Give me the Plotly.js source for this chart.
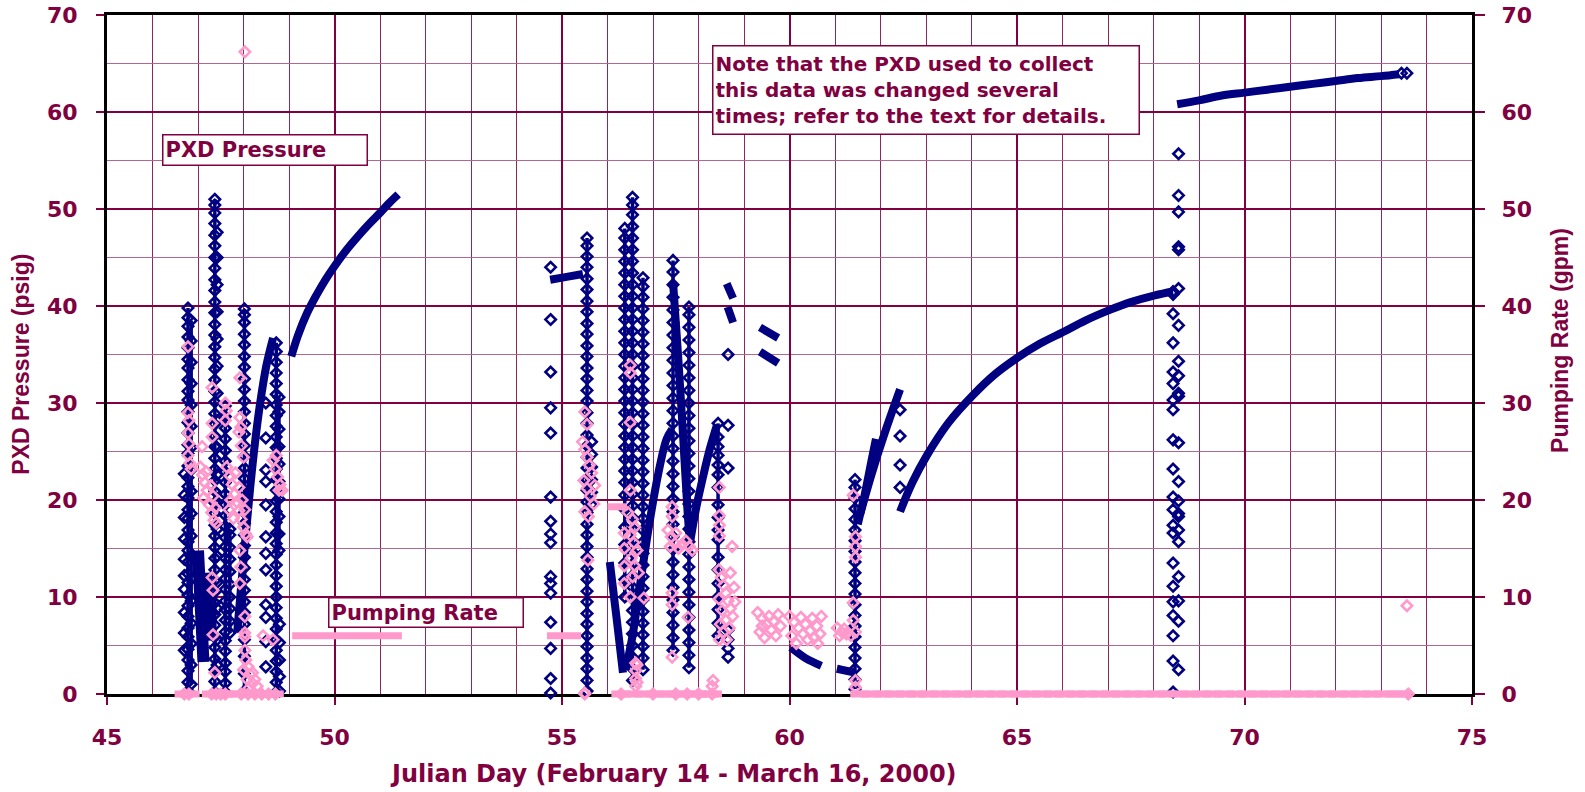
<!DOCTYPE html>
<html><head><meta charset="utf-8">
<script src="https://cdn.plot.ly/plotly-3.0.1.min.js"></script>
<style>html,body{margin:0;padding:0;background:#fff}</style>
</head><body><div id="chart" style="width:1585px;height:792px"></div>
<script>
// ---------- data ----------
// PXD pressure: continuous dense runs (null separates runs)
const pxdCurveX = [49.05,49.2,49.4,49.6,49.8,50.0,50.25,50.5,50.75,51.0,51.2,51.4,null,
  54.74,55.1,55.46,null, 56.05,56.2,56.34,null,
  56.4,56.55,56.7,56.85,57.0,57.15,57.3,57.42,null, 57.44,57.55,57.65,57.75,57.81,null,
  57.81,57.95,58.1,58.25,58.41,null, 58.62,58.76,null, 58.64,58.76,null,
  59.35,59.75,null, 59.35,59.75,null, 60.03,60.35,60.7,null, 61.04,61.44,null,
  61.55,61.8,62.1,62.43,null, 61.5,61.65,61.8,61.9,null,
  62.43,62.7,63.02,63.5,64.03,64.5,65.02,65.5,66.05,66.5,67.04,67.5,68.03,68.43,null,
  68.52,69.0,69.5,70.0,70.5,71.0,71.5,72.0,72.5,73.0,73.4,null,
  47.86,47.95,48.05,48.15,48.25,48.36,48.5,48.65];
const pxdCurveY = [34.8,37.0,39.3,41.1,42.7,44.1,45.7,47.1,48.4,49.6,50.6,51.5,null,
  42.7,43.0,43.3,null, 13.6,7.8,2.2,null,
  2.5,6.0,10.8,15.5,19.8,23.5,26.3,27.3,null, 42.5,35.0,27.5,19.5,15.6,null,
  15.5,19.2,22.4,25.3,27.8,null, 42.3,40.8,null, 39.9,38.3,null,
  37.8,36.7,null, 35.3,34.1,null, 4.8,3.7,2.9,null, 2.6,2.2,null,
  18.5,22.6,27.0,31.4,null, 17.5,20.5,24.0,26.3,null,
  18.8,21.8,24.6,28.0,30.8,32.9,34.7,36.1,37.4,38.5,39.6,40.4,41.1,41.5,null,
  60.8,61.2,61.7,62.0,62.3,62.6,62.9,63.2,63.5,63.7,63.9,null,
  6.3,11.2,16.4,21.4,25.8,29.8,33.8,36.7];
// PXD pressure: wide dense band near day 47
const pxdBandX = [47.0,47.04,47.08,47.12,null, 47.17,47.2,47.23,47.26];
const pxdBandY = [14.8,11.0,7.0,3.3,null, 12.5,10.0,7.5,5.5];

// PXD pressure: individual readings, grouped by day column (dense columns)
const pxdDay4678 = [0.3,1.2,2.4,3.5,4.6,5.9,6.8,8.0,9.1,10.2,11.5,12.4,13.6,14.8,15.7,16.9,18.1,19.0,20.2,21.4,22.3,23.5,24.8,25.7,26.9,28.0,29.1,30.3,31.2,32.4,33.6,34.5,35.7,36.8,37.9,38.8,39.8];
const pxdDay4685 = [1.0,3.0,5.2,7.3,9.6,11.9,14.2,16.3,18.6,20.9,23.1,25.4,27.6,29.8,32.0,34.2,36.4,38.5];
const pxdDay4737 = [0.2,1.3,2.5,3.6,4.8,5.9,7.1,8.2,9.4,10.5,11.7,12.8,14.0,15.1,16.3,17.4,18.6,19.7,20.9,22.0,23.2,24.3,25.5,26.6,27.8,28.9,30.1,31.2,32.4,33.5,34.7,35.8,37.0,38.1,39.3,40.4,41.6,42.7,43.9,45.0,46.2,47.3,48.5,49.6,50.4,51.0];
const pxdDay4760 = [0.2,1.1,2.3,3.2,4.4,5.5,6.4,7.6,8.7,9.6,10.8,11.9,12.8,14.0,15.2,16.1,17.3,18.4,19.5,20.6,21.8,22.9,24.0,25.1,26.3,27.4,28.6,29.7];
const pxdDay4770 = [6.3,7.5,8.8,10.0,11.3,12.6,13.9,15.1,16.4,17.0];
const pxdDay4802 = [0.3,2.1,3.9,5.6,7.2,8.4,9.5,10.7,11.8,13.0,14.1,15.3,16.4,17.6,18.7,19.9,21.0,22.2,23.3,24.5,25.6,26.8,27.9,29.1,30.2,31.4,32.5,33.7,34.8,36.0,37.1,38.3,39.1,39.7];
const pxdDay4872 = [0.2,1.2,2.3,3.4,4.5,5.6,6.7,7.8,8.9,10.0,11.1,12.2,13.3,14.4,15.5,16.6,17.7,18.8,19.9,21.0,22.1,23.2,24.3,25.4,26.5,27.6,28.7,29.8,30.9,32.0,33.1,34.2,35.3,36.2];
const pxdDay4878 = [14.8,16.5,18.3,20.1,21.9,23.7,25.5,27.3,29.1,30.6];
const pxdDay5555 = [0.3,1.4,2.6,3.7,4.9,6.0,7.2,8.3,9.5,10.6,11.8,12.9,14.1,15.2,16.4,17.5,18.7,19.8,21.0,22.1,23.3,24.4,25.6,26.7,27.9,29.0,30.2,31.3,32.5,33.6,34.8,35.9,37.1,38.2,39.4,40.5,41.7,42.8,44.0,45.1,46.2,47.0];
const pxdDay5638 = [10.0,11.8,13.5,15.4,17.2,19.0,20.5,21.8,23.0,24.2,25.4,26.6,27.8,29.0,30.2,31.4,32.6,33.8,35.0,36.2,37.4,38.6,39.8,41.0,42.2,43.4,44.6,45.8,47.0,48.0];
const pxdDay5655 = [1.4,2.6,3.8,5.0,6.2,7.4,8.6,9.8,11.0,12.2,13.4,14.6,15.8,17.0,18.2,19.4,20.6,21.8,23.0,24.2,25.4,26.6,27.8,29.0,30.2,31.4,32.6,33.8,35.0,36.2,37.4,38.6,39.8,41.0,42.2,43.4,44.6,45.8,47.0,48.2,49.4,50.4,51.2];
const pxdDay5678 = [2.5,3.7,4.9,6.1,7.3,8.5,9.7,10.9,12.1,13.3,14.5,15.7,16.9,18.1,19.3,20.5,21.7,22.9,24.1,25.3,26.5,27.7,28.9,30.1,31.3,32.5,33.7,34.9,36.1,37.3,38.5,39.7,40.9,42.0,42.9];
const pxdDay5744 = [4.5,5.8,7.1,8.4,9.7,11.0,12.3,13.6,14.9,16.2,17.5,18.8,20.1,21.4,22.7,24.0,25.3,26.6,27.9,29.2,30.5,31.8,33.1,34.4,35.7,37.0,38.3,39.6,40.9,42.2,43.5,44.7];
const pxdDay5779 = [2.7,4.0,5.3,6.6,7.9,9.2,10.5,11.8,13.1,14.4,15.7,17.0,18.3,19.6,20.9,22.2,23.5,24.8,26.1,27.4,28.7,30.0,31.3,32.6,33.9,35.2,36.5,37.8,39.1,39.9];
const pxdDay5843 = [6.0,7.3,8.7,10.0,11.4,12.8,14.1,15.9,16.9,18.2,19.5,21.3,22.6,23.6,24.6,25.5,26.5,27.9];
const pxdDay6144 = [0.5,1.5,2.6,3.7,4.8,5.9,7.0,8.1,9.2,10.3,11.4,12.5,13.6,14.7,15.8,16.9,18.0,19.1,20.2,21.3,22.1];
const pxdDenseDays = [46.78,46.85,47.37,47.60,47.70,48.02,48.72,48.78,55.55,56.38,56.55,56.78,57.44,57.79,58.43,61.44];
// PXD pressure: sparse columns
const pxdDay4670 = [4.5,6.3,8.4,10.8,12.2,13.9,16.0,18.2,20.5,22.7];
const pxdDay4742 = [3.0,5.6,8.8,11.5,14.2,17.0,19.8,22.6,25.4,28.2,31.0,33.8,36.6,39.4,42.2,45.0,47.6];
const pxdDay4849 = [2.8,5.4,7.9,9.2,12.8,14.5,16.2,19.5,21.9,23.1,26.4,30.0];
const pxdDay4879 = [0.3,1.8,3.5,5.3,7.2];
const pxdDay5475 = [0.1,1.6,4.7,7.4,10.4,11.4,12.1,15.6,16.5,17.8,20.3,26.9,29.5,33.2,38.6,44.0];
const pxdDay5565 = [19.5,20.8,22.1,23.4,24.7,26.0];
const pxdDay5865 = [3.8,4.7,5.6,6.6,23.3,27.7,35.0];
const pxdDay6243 = [21.3,23.6,26.6,29.3];
const pxdDay6843 = [41.5,41.2,39.2,36.2,33.2,32.0,30.3,29.3,26.2,23.2,20.3,19.0,17.4,16.6,13.5,11.1,9.5,8.1,6.0,3.4,0.2];
const pxdDay6855 = [55.7,51.4,49.7,46.1,45.8,41.8,38.0,34.3,32.8,31.0,30.7,25.9,21.9,19.9,18.6,18.3,16.9,15.7,12.1,9.6,7.5,2.5];
const pxdDay7345 = [64.0];
const pxdDay7357 = [64.0];
const pxdSparseDays = [46.70,47.42,48.49,48.79,54.75,55.65,58.65,62.43,68.43,68.55,73.45,73.57];

// Pumping rate: continuous non-zero runs
const pumpRunX = [49.07,51.48,null,54.67,55.42,null,56.0,56.43];
const pumpRunY = [6.0,6.0,null,6.0,6.0,null,19.3,19.3];
// Pumping rate: zero readings along the axis (days)
const pumpZeroDays = [46.7,46.82, 47.3,47.55,47.63, 47.92,48.17,48.42,48.67,
  56.3,56.55,56.8,57.05,57.3,57.5, 57.72,57.97,58.22,58.3,
  61.55,61.8,62.05,62.3,62.55,62.8,63.05,63.3,63.55,63.8,64.05,64.3,64.55,64.8,65.05,65.3,65.55,65.8,
  66.05,66.3,66.55,66.8,67.05,67.3,67.55,67.8,68.05,68.3,68.55,68.8,69.05,69.3,69.55,69.8,70.05,70.3,
  70.55,70.8,71.05,71.3,71.55,71.8,72.05,72.3,72.55,72.8,73.05,73.3,73.45];
// Pumping rate: individual readings
const pumpX = [46.78,46.78,46.8,46.78,46.8,46.78,46.82,46.85,
  47.09,47.05,47.1,47.15,47.2,47.12,47.25,47.3,47.35,47.4,47.18,47.28,47.33,47.38,
  47.31,47.31,47.31,47.6,47.62,47.6,
  47.63,47.7,47.75,47.8,47.85,47.9,47.95,48.0,48.05,47.72,47.82,47.9,47.97,48.03,48.08,47.68,47.78,
  47.92,47.92,47.94,47.9,47.95,48.0,47.92,47.94,47.92,
  47.31,47.33,47.33,47.37,
  48.03,48.03,48.03,48.03,48.05,48.1,48.15,48.2,48.2,48.25,48.3,48.0,48.08,48.12,
  48.43,48.65,48.65,48.7,48.75,48.8,48.85,48.72,48.78,48.03,
  46.7,46.8,47.3,47.4,47.5,47.6,47.95,48.1,48.25,48.4,48.55,48.7,
  55.5,55.55,55.45,55.5,55.55,55.6,55.65,55.48,55.55,55.62,55.7,55.5,55.58,55.72,55.57,55.5,
  56.5,56.5,56.5,56.5,56.45,56.55,56.6,56.5,56.58,56.65,56.52,56.6,56.68,56.55,
  56.37,56.37,56.37,56.37,56.5,56.8,56.62,56.62,56.62,56.62,56.65,56.65,
  57.42,57.42,57.42,57.42,57.42,57.33,57.4,57.48,57.56,57.64,57.72,57.8,57.86,57.38,57.5,57.77,
  58.3,58.32,58.46,58.46,58.46,58.46,58.74,
  58.45,58.5,58.55,58.6,58.65,58.7,58.75,58.48,58.55,58.62,58.7,58.78,58.45,58.52,58.6,58.68,58.8,58.46,
  59.3,59.4,59.5,59.6,59.7,59.8,59.35,59.45,59.55,59.75,59.65,59.4,
  60.0,60.1,60.2,60.3,60.4,60.5,60.6,60.67,60.05,60.15,60.25,60.35,60.45,60.55,60.62,60.7,
  61.05,61.15,61.25,61.35,61.45,61.1,61.2,
  61.4,61.45,61.45,61.45,61.4,61.4,61.45,61.45,
  73.57,73.6,55.5,56.3,57.0,57.5,57.75,58.0,58.3];
const pumpY = [35.8,29.0,28.2,26.9,25.8,24.6,23.8,23.2,
  25.5,23.4,22.6,21.8,21.0,20.2,19.5,18.7,17.9,17.6,22.9,21.5,20.4,19.2,
  31.6,27.9,26.5,30.0,29.2,28.2,
  23.4,22.5,21.6,20.6,19.8,18.9,18.0,17.2,16.5,20.0,22.8,21.3,20.0,19.0,16.2,19.0,18.1,
  32.6,28.5,27.5,27.0,25.6,24.4,14.8,13.1,11.4,
  12.0,10.7,6.1,2.2,
  8.0,6.3,5.9,4.5,3.5,2.8,2.0,2.2,1.1,1.5,0.8,2.5,1.5,0.6,
  6.0,5.6,24.1,23.2,22.4,21.6,21.0,24.6,21.0,66.2,
  0,0,0,0,0,0,0,0,0,0,0,0,
  29.1,27.8,26.0,25.2,24.4,23.6,22.8,22.0,21.2,20.4,19.6,18.8,18.3,21.5,13.8,0.1,
  33.9,33.1,28.0,21.0,18.7,18.0,17.2,16.4,15.6,14.8,14.0,13.2,12.5,12.1,
  16.6,15.0,13.2,11.4,10.0,9.9,3.2,2.4,1.6,0.8,3.0,1.2,
  19.3,18.3,10.4,9.2,3.8,16.9,16.2,15.5,15.0,15.4,15.8,15.2,14.8,15.2,16.6,7.9,
  0.8,1.4,21.3,18.4,17.4,16.3,15.2,
  12.8,12.0,11.2,10.4,9.6,8.8,8.0,7.2,6.4,5.6,12.5,11.0,9.8,8.6,7.6,6.8,9.5,5.6,
  8.4,7.8,7.2,6.6,6.0,7.0,6.4,5.8,8.0,8.2,7.5,7.0,
  8.0,7.4,6.8,6.2,5.6,7.8,7.0,6.2,6.0,5.2,7.9,7.2,6.5,5.8,5.2,8.0,
  6.8,6.4,6.2,6.0,6.4,6.0,6.7,
  20.5,16.2,15.2,14.1,9.4,7.6,1.4,0.7,
  9.1,0,0,0,0,0,0,0,0];

const xTicks = [45,50,55,60,65,70,75];
const yTicks = [0,10,20,30,40,50,60,70];

// ---------- build traces ----------
const NAVY = '#000080', PINK = '#FF99CC', MAROON = '#800040';
const denseCols = [pxdDay4678,pxdDay4685,pxdDay4737,pxdDay4760,pxdDay4770,pxdDay4802,pxdDay4872,pxdDay4878,
  pxdDay5555,pxdDay5638,pxdDay5655,pxdDay5678,pxdDay5744,pxdDay5779,pxdDay5843,pxdDay6144];
const sparseCols = [pxdDay4670,pxdDay4742,pxdDay4849,pxdDay4879,pxdDay5475,pxdDay5565,pxdDay5865,pxdDay6243,
  pxdDay6843,pxdDay6855,pxdDay7345,pxdDay7357];
const ptsX = [], ptsY = [], chainX = [], chainY = [];
denseCols.forEach((ys, i) => {
  ys.forEach(v => { ptsX.push(pxdDenseDays[i]); ptsY.push(v); chainX.push(pxdDenseDays[i]); chainY.push(v); });
  chainX.push(null); chainY.push(null);
});
sparseCols.forEach((ys, i) => ys.forEach(v => { ptsX.push(pxdSparseDays[i]); ptsY.push(v); }));

const mk = (c) => ({symbol: 'diamond-open', size: 8, color: c, line: {color: c, width: 2.6}});
const traces = [
  {x: chainX, y: chainY, mode: 'lines', line: {color: NAVY, width: 3.5}, cliponaxis: false, hoverinfo: 'skip', showlegend: false},
  {x: pxdBandX, y: pxdBandY, mode: 'lines', line: {color: NAVY, width: 12}, cliponaxis: false, hoverinfo: 'skip', showlegend: false},
  {x: pxdCurveX, y: pxdCurveY, mode: 'lines', line: {color: NAVY, width: 8, shape: 'spline'}, cliponaxis: false, hoverinfo: 'skip', showlegend: false},
  {x: ptsX, y: ptsY, mode: 'markers', marker: mk(NAVY), cliponaxis: false, showlegend: false},
  {x: pumpRunX, y: pumpRunY, yaxis: 'y2', mode: 'lines', line: {color: PINK, width: 7}, cliponaxis: false, showlegend: false},
  {x: pumpZeroDays, y: pumpZeroDays.map(() => 0), yaxis: 'y2', mode: 'markers', cliponaxis: false, showlegend: false,
   marker: {symbol: 'line-ew', size: 14, color: PINK, line: {color: PINK, width: 7}}},
  {x: pumpX, y: pumpY, yaxis: 'y2', mode: 'markers', marker: mk(PINK), cliponaxis: false, showlegend: false}
];

const tickFont = {family: 'DejaVu Sans', size: 22, color: MAROON, weight: 'bold'};
const annFont = {family: 'DejaVu Sans', size: 21, color: MAROON, weight: 'bold'};
const noteFont = {family: 'DejaVu Sans', size: 20, color: MAROON, weight: 'bold'};
const layout = {
  width: 1585, height: 792,
  margin: {l: 107, r: 113, t: 15, b: 98},
  paper_bgcolor: '#fff', plot_bgcolor: '#fff',
  showlegend: false,
  xaxis: {range: [45, 75], tickvals: xTicks, ticks: 'outside', ticklen: 8, tickwidth: 1.5, tickcolor: MAROON,
    tickfont: tickFont, ticklabelstandoff: 14,
    showgrid: true, gridcolor: MAROON, gridwidth: 2,
    minor: {dtick: 1, showgrid: true, gridcolor: '#8c2860', gridwidth: 1, ticks: ''},
    showline: true, linecolor: '#000', linewidth: 3, mirror: true, zeroline: false, layer: 'below traces'},
  yaxis: {range: [0, 70], tickvals: yTicks, ticks: 'outside', ticklen: 8, tickwidth: 1.5, tickcolor: MAROON,
    tickfont: tickFont, ticklabelstandoff: 14,
    showgrid: true, gridcolor: MAROON, gridwidth: 2,
    minor: {dtick: 5, showgrid: true, gridcolor: '#b06890', gridwidth: 1, ticks: ''},
    showline: true, linecolor: '#000', linewidth: 3, mirror: true, zeroline: false, layer: 'below traces'},
  yaxis2: {range: [0, 70], tickvals: yTicks, overlaying: 'y', side: 'right', ticks: 'outside', ticklen: 10, tickwidth: 1.5,
    tickcolor: MAROON, tickfont: tickFont, ticklabelstandoff: 12, showgrid: false, zeroline: false,
    showline: true, linecolor: '#000', linewidth: 3, layer: 'below traces'},
  annotations: [
    {xref: 'paper', yref: 'paper', x: 0.4147, y: -0.118, xanchor: 'center', yanchor: 'middle', showarrow: false,
     text: 'Julian Day (February 14 - March 16, 2000)', font: {family: 'DejaVu Sans', size: 24, color: MAROON, weight: 'bold'}},
    {xref: 'paper', yref: 'paper', x: -0.063, y: 0.485, xanchor: 'center', yanchor: 'middle', showarrow: false, textangle: -90,
     text: 'PXD Pressure (psig)', font: {family: 'Liberation Sans', size: 23, color: MAROON, weight: 'bold'}},
    {xref: 'paper', yref: 'paper', x: 1.0645, y: 0.52, xanchor: 'center', yanchor: 'middle', showarrow: false, textangle: -90,
     text: 'Pumping Rate (gpm)', font: {family: 'Liberation Sans', size: 23, color: MAROON, weight: 'bold'}},
    {xref: 'x', yref: 'y', x: 46.21, y: 57.73, xanchor: 'left', yanchor: 'top', showarrow: false, align: 'left',
     text: 'PXD Pressure', width: 199, height: 25, borderpad: 2, bordercolor: MAROON, borderwidth: 1.5, bgcolor: '#fff', font: annFont},
    {xref: 'x', yref: 'y', x: 49.86, y: 10.0, xanchor: 'left', yanchor: 'top', showarrow: false, align: 'left',
     text: 'Pumping Rate', width: 189, height: 24, borderpad: 2, bordercolor: MAROON, borderwidth: 1.5, bgcolor: '#fff', font: annFont},
    {xref: 'x', yref: 'y', x: 58.30, y: 66.9, xanchor: 'left', yanchor: 'top', showarrow: false, align: 'left',
     text: 'Note that the PXD used to collect<br>this data was changed several<br>times; refer to the text for details.',
     width: 421, height: 83, borderpad: 2, bordercolor: MAROON, borderwidth: 1.5, bgcolor: '#fff', font: noteFont}
  ]
};
Plotly.newPlot('chart', traces, layout, {displayModeBar: false, responsive: false});
</script></body></html>
